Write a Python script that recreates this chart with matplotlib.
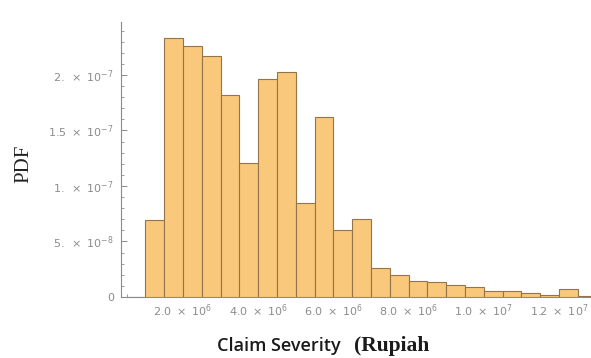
import matplotlib
matplotlib.use("Agg")
import matplotlib.pyplot as plt
from matplotlib.ticker import FixedLocator, MultipleLocator

# Histogram bins (left edges, Rupiah) and PDF heights (x 1e-7)
bin_left = [0.5e6, 1.0e6, 1.5e6, 2.0e6, 2.5e6, 3.0e6, 3.5e6, 4.0e6, 4.5e6, 5.0e6,
            5.5e6, 6.0e6, 6.5e6, 7.0e6, 7.5e6, 8.0e6, 8.5e6, 9.0e6, 9.5e6, 10.0e6,
            10.5e6, 11.0e6, 11.5e6, 12.0e6, 12.5e6]
bin_width = 0.5e6
pdf_e7 = [0.004, 0.694, 2.336, 2.264, 2.17, 1.82, 1.205, 1.96, 2.03, 0.844,
          1.624, 0.604, 0.703, 0.258, 0.198, 0.144, 0.132, 0.105, 0.087, 0.054,
          0.051, 0.036, 0.021, 0.069, 0.006]
pdf = [v * 1e-7 for v in pdf_e7]

xticks = [2e6, 4e6, 6e6, 8e6, 10e6, 12e6]
xticklabels = [r"$2.0\ \times\ 10^{6}$", r"$4.0\ \times\ 10^{6}$", r"$6.0\ \times\ 10^{6}$",
               r"$8.0\ \times\ 10^{6}$", r"$1.0\ \times\ 10^{7}$", r"$1.2\ \times\ 10^{7}$"]
yticks = [0, 5e-8, 1e-7, 1.5e-7, 2e-7]
yticklabels = ["0", r"$5.\ \times\ 10^{-8}$", r"$1.\ \times\ 10^{-7}$",
               r"$1.5\ \times\ 10^{-7}$", r"$2.\ \times\ 10^{-7}$"]

fig = plt.figure(figsize=(5.91, 3.58), dpi=100)
ax = fig.add_axes([121/591, 1-297/358, 1-121/591, (297-22)/358])

ax.bar(bin_left, pdf, width=bin_width, align="edge",
       color="#F9C87A", edgecolor="#94744A", linewidth=0.8, zorder=3)

ax.set_xlim(0.35e6, 12.85e6)
ax.set_ylim(0, 2.477e-7)

for s in ["top", "right"]:
    ax.spines[s].set_visible(False)
for s in ["left", "bottom"]:
    ax.spines[s].set_color("#8a8a8a")
    ax.spines[s].set_linewidth(0.8)

ax.xaxis.set_major_locator(FixedLocator(xticks))
ax.set_xticklabels(xticklabels)
ax.xaxis.set_minor_locator(MultipleLocator(0.5e6))
ax.yaxis.set_major_locator(FixedLocator(yticks))
ax.set_yticklabels(yticklabels)
ax.yaxis.set_minor_locator(MultipleLocator(1e-8))

ax.tick_params(axis="both", which="major", direction="in", length=4.5,
               width=0.7, color="#8a8a8a", labelcolor="#8c8c8c", labelsize=8)
ax.tick_params(axis="both", which="minor", direction="in", length=2.5,
               width=0.6, color="#8a8a8a")
ax.tick_params(axis="x", which="major", pad=4)
ax.tick_params(axis="y", which="major", pad=5)

fig.text(24/591, 1-164/358, "PDF", rotation=90, ha="center", va="center",
         family="Liberation Serif", fontsize=15, color="#222222")
fig.text(217/591, 1-351/358, "Claim Severity", ha="left", va="baseline",
         family="Open Sans", fontweight="semibold", fontsize=13, color="#1a1a1a")
fig.text(354/591, 1-351/358, "(Rupiah", ha="left", va="baseline",
         family="Liberation Serif", fontweight="bold", fontsize=15.5, color="#1a1a1a")

fig.savefig("out.png", dpi=100)
